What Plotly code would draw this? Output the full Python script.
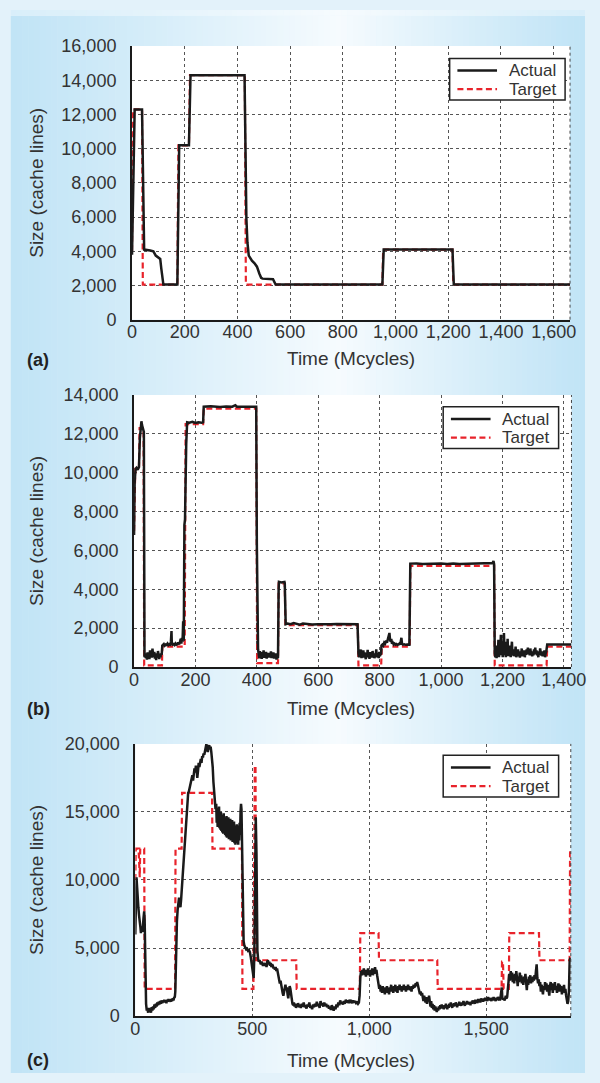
import plotly.graph_objects as go

# ---------------- DATA ----------------
a_x_ticks = [0, 200, 400, 600, 800, 1000, 1200, 1400, 1600]
a_y_ticks = [0, 2000, 4000, 6000, 8000, 10000, 12000, 14000, 16000]
b_x_ticks = [0, 200, 400, 600, 800, 1000, 1200, 1400]
b_y_ticks = [0, 2000, 4000, 6000, 8000, 10000, 12000, 14000]
c_x_ticks = [0, 500, 1000, 1500]
c_y_ticks = [0, 5000, 10000, 15000, 20000]

a_actual = [(0, 3800), (3, 7000), (6, 10500), (10, 12300), (38, 12300), (42, 6000), (46, 4100),
            (69, 4050), (81, 4000), (90, 3750), (100, 3650), (107, 3550), (111, 3000), (115, 2300),
            (119, 2050), (172, 2050), (176, 7000), (179, 10200), (216, 10200), (219, 14000),
            (222, 14300), (427, 14300), (431, 9000), (434, 5900), (438, 4500), (443, 3750),
            (455, 3450), (465, 3300), (474, 3100), (478, 2900), (483, 2700), (490, 2450),
            (495, 2400), (535, 2370), (540, 2200), (545, 2050), (950, 2050), (955, 4100),
            (1216, 4100), (1221, 2050), (1662, 2050)]
a_target = [(0, 4000), (4, 12300), (38, 12300), (41, 2050), (172, 2050), (176, 10200), (216, 10200),
            (220, 14300), (428, 14300), (432, 2050), (950, 2050), (953, 4100), (1216, 4100),
            (1219, 2050), (1662, 2050)]

b_actual = [(0, 6800), (2, 9500), (5, 10200), (8, 10250), (12, 10150), (16, 10300), (19, 11800),
            (22, 12500), (24, 12650), (26, 12450), (28, 12300), (30, 12250), (32, 12100), (34, 500),
            (36, 700), (38, 450), (40, 620), (42, 380), (44, 750), (46, 520), (48, 680), (50, 400),
            (52, 850), (54, 560), (56, 720), (58, 480), (60, 950), (62, 600), (64, 520), (66, 780),
            (68, 430), (70, 650), (72, 350), (74, 700), (76, 480), (78, 820), (80, 560), (82, 400),
            (84, 650), (86, 500), (88, 700), (90, 620), (92, 1100), (94, 1120), (97, 1180), (100, 1100),
            (103, 1150), (106, 1130), (109, 1200), (112, 1120), (115, 1160), (118, 1140), (120, 1300),
            (122, 1850), (123, 1200), (126, 1150), (129, 1180), (132, 1130), (135, 1210), (138, 1150),
            (141, 1170), (144, 1250), (147, 1160), (150, 1300), (152, 1450), (154, 1200), (156, 1500),
            (158, 1300), (159, 1900), (160, 2350), (161, 1400), (162, 1350), (164, 7300), (166, 7600),
            (170, 11500), (173, 12600), (180, 12580), (190, 12620), (200, 12560), (210, 12600),
            (220, 12580), (225, 12600), (227, 13400), (250, 13420), (280, 13380), (300, 13410),
            (320, 13400), (330, 13480), (335, 13400), (360, 13420), (380, 13400), (398, 13400),
            (400, 6400), (404, 900), (406, 700), (408, 450), (410, 820), (412, 500), (414, 760),
            (416, 420), (418, 680), (420, 540), (422, 850), (424, 470), (426, 700), (428, 560),
            (430, 780), (432, 430), (434, 650), (436, 520), (438, 720), (440, 480), (442, 640),
            (444, 550), (446, 800), (448, 450), (450, 690), (452, 520), (454, 750), (456, 430),
            (458, 620), (460, 500), (462, 700), (464, 380), (466, 600), (468, 450), (469, 500),
            (471, 4000), (472, 4380), (480, 4350), (490, 4380), (491, 4300), (494, 2200), (500, 2230),
            (510, 2200), (520, 2260), (530, 2210), (540, 2180), (550, 2240), (560, 2220), (570, 2200),
            (580, 2180), (600, 2200), (620, 2190), (640, 2200), (660, 2210), (680, 2200), (700, 2190),
            (720, 2200), (728, 2200), (731, 700), (733, 500), (735, 820), (737, 600), (739, 900),
            (741, 450), (743, 700), (745, 550), (747, 850), (749, 480), (751, 750), (753, 600),
            (755, 400), (757, 720), (759, 560), (761, 880), (763, 500), (765, 680), (767, 420),
            (769, 760), (771, 550), (773, 650), (775, 480), (777, 820), (779, 600), (781, 700),
            (783, 450), (785, 650), (787, 550), (789, 900), (791, 500), (793, 720), (795, 600),
            (797, 460), (799, 780), (801, 560), (803, 650), (805, 700), (806, 1100), (809, 1150),
            (812, 1100), (815, 1250), (818, 1200), (821, 1350), (824, 1250), (827, 1400), (830, 1550),
            (832, 1750), (834, 1400), (836, 1300), (838, 1450), (840, 1200), (843, 1250), (846, 1150),
            (849, 1200), (852, 1150), (855, 1180), (858, 1130), (861, 1160), (864, 1200), (867, 1150),
            (870, 1450), (871, 1500), (873, 1200), (876, 1150), (880, 1170), (885, 1140), (890, 1160),
            (895, 1150), (897, 1150), (900, 5320), (920, 5330), (940, 5300), (960, 5320), (980, 5310),
            (1000, 5330), (1020, 5300), (1040, 5320), (1060, 5300), (1080, 5310), (1100, 5320),
            (1120, 5300), (1140, 5310), (1160, 5320), (1168, 5350), (1171, 5450), (1173, 5300),
            (1175, 700), (1177, 500), (1179, 1100), (1181, 450), (1183, 900), (1185, 600), (1187, 1400),
            (1189, 500), (1191, 1000), (1193, 700), (1195, 1650), (1197, 600), (1199, 1200), (1201, 500),
            (1203, 900), (1205, 1750), (1207, 600), (1209, 1300), (1211, 500), (1213, 1000), (1215, 650),
            (1217, 1450), (1219, 550), (1221, 900), (1223, 700), (1225, 1100), (1227, 500), (1229, 800),
            (1231, 1300), (1233, 600), (1235, 900), (1237, 550), (1239, 800), (1241, 650), (1243, 1050),
            (1245, 500), (1247, 750), (1249, 600), (1251, 900), (1253, 550), (1255, 700), (1257, 480),
            (1259, 800), (1261, 650), (1263, 950), (1265, 550), (1267, 700), (1269, 600), (1271, 850),
            (1273, 500), (1275, 750), (1277, 620), (1279, 900), (1281, 700), (1283, 1000), (1285, 650),
            (1287, 850), (1289, 600), (1291, 950), (1293, 700), (1295, 800), (1297, 550), (1299, 750),
            (1301, 600), (1303, 900), (1305, 700), (1307, 1000), (1309, 650), (1311, 850), (1313, 600),
            (1315, 750), (1317, 500), (1319, 800), (1321, 650), (1323, 950), (1325, 700), (1327, 600),
            (1329, 800), (1331, 550), (1333, 750), (1335, 600), (1337, 850), (1339, 500), (1341, 700),
            (1343, 800), (1346, 1150), (1360, 1160), (1380, 1150), (1400, 1160), (1425, 1150)]
b_target = [(0, 7000), (4, 10200), (16, 10200), (18, 12300), (31, 12300), (33, 80), (91, 80),
            (92, 1050), (165, 1050), (168, 12500), (225, 12500), (227, 13300), (398, 13300),
            (401, 200), (469, 200), (471, 4300), (491, 4300), (493, 2150), (729, 2150), (731, 80),
            (805, 80), (807, 1050), (898, 1050), (900, 5200), (1173, 5200), (1175, 80), (1344, 80),
            (1346, 1050), (1425, 1050)]

c_actual = [(0, 6000), (3, 9500), (5, 10200), (8, 9400), (10, 8500), (13, 8000), (16, 7400), (19, 7100),
            (22, 6500), (24, 6100), (26, 6500), (28, 6600), (30, 6200), (32, 6400), (35, 7200), (38, 7700),
            (40, 7000), (42, 5700), (44, 3000), (46, 900), (49, 400), (52, 550), (55, 250), (58, 600),
            (61, 300), (64, 500), (67, 250), (70, 650), (73, 400), (76, 700), (79, 500), (82, 850),
            (85, 600), (88, 900), (91, 700), (94, 1000), (97, 800), (100, 1050), (103, 850), (106, 1100),
            (109, 900), (112, 1150), (115, 950), (118, 1100), (121, 1000), (124, 1200), (127, 1000),
            (130, 1150), (133, 950), (136, 1200), (139, 1050), (142, 1250), (145, 1100), (148, 1200),
            (151, 1050), (154, 1250), (157, 1100), (160, 1300), (163, 1150), (166, 1350), (169, 1400),
            (171, 1800), (174, 4500), (176, 6100), (178, 7000), (181, 7800), (184, 8300), (187, 8700),
            (190, 8200), (193, 8000), (196, 8600), (199, 9400), (202, 10000), (205, 10800), (208, 11500),
            (211, 12300), (214, 13100), (217, 14000), (220, 15000), (223, 15900), (226, 16400),
            (229, 16500), (232, 16800), (235, 16900), (238, 17100), (241, 17400), (244, 17700),
            (247, 17300), (250, 17800), (253, 18200), (256, 17900), (259, 18400), (262, 18100),
            (265, 17500), (268, 18000), (271, 18600), (274, 18300), (277, 18700), (280, 18900),
            (283, 18600), (286, 19100), (289, 19000), (292, 19300), (295, 19200), (298, 19500),
            (301, 19700), (304, 20000), (307, 19600), (310, 19400), (313, 19800), (316, 19900),
            (319, 19600), (322, 19800), (325, 19400), (328, 19000), (331, 18300), (334, 17200),
            (337, 16400), (340, 15800), (343, 15200), (346, 15600), (348, 14200), (350, 15300),
            (352, 13900), (354, 15100), (356, 14000), (358, 15400), (360, 13800), (362, 14900),
            (364, 13700), (366, 15000), (368, 13600), (370, 14800), (372, 13500), (374, 14700),
            (376, 13400), (378, 14900), (380, 13500), (382, 14600), (384, 13300), (386, 14500),
            (388, 13200), (390, 14700), (392, 13100), (394, 14400), (396, 13200), (398, 14600),
            (400, 13000), (402, 14300), (404, 13100), (406, 14500), (408, 12900), (410, 14200),
            (412, 13000), (414, 14400), (416, 12800), (418, 14100), (420, 12900), (422, 14300),
            (424, 12700), (426, 14000), (428, 12600), (430, 13900), (432, 12800), (434, 14100),
            (436, 12700), (438, 13800), (440, 12600), (442, 14000), (444, 12900), (446, 14200),
            (448, 13300), (450, 15000), (452, 15600), (454, 15200), (456, 13500), (458, 10000),
            (460, 7500), (463, 5500), (466, 5200), (470, 5000), (474, 4900), (478, 4950), (482, 4800),
            (486, 4850), (490, 4700), (494, 4300), (497, 3800), (500, 3400), (503, 3100), (506, 2800),
            (509, 4500), (512, 11000), (515, 14600), (518, 12000), (520, 7000), (522, 4800),
            (525, 4200), (528, 4000), (531, 4100), (534, 3900), (537, 3800), (540, 4000), (543, 3900),
            (546, 3700), (549, 3900), (552, 3800), (555, 3700), (558, 3900), (561, 3600), (564, 4000),
            (567, 4100), (570, 3800), (573, 4000), (576, 3700), (579, 3900), (582, 3600), (585, 3800),
            (588, 3700), (591, 3500), (594, 3600), (597, 3400), (600, 3600), (603, 3300), (606, 3500),
            (609, 3200), (612, 3000), (615, 2700), (618, 2400), (621, 2600), (624, 2200), (627, 2000),
            (630, 1700), (633, 1500), (636, 1900), (639, 2200), (642, 2300), (645, 1900), (648, 2100),
            (651, 1600), (654, 1300), (657, 1800), (660, 2200), (663, 2000), (666, 1500), (669, 1200),
            (672, 900), (675, 800), (678, 1000), (681, 700), (684, 900), (687, 600), (690, 800),
            (693, 700), (696, 950), (700, 650), (704, 850), (708, 600), (712, 900), (716, 700),
            (720, 1000), (724, 650), (728, 800), (732, 550), (736, 850), (740, 700), (744, 1000),
            (748, 600), (752, 750), (756, 500), (760, 850), (764, 650), (768, 900), (772, 700),
            (776, 1050), (780, 750), (784, 900), (788, 600), (792, 1100), (796, 800), (800, 950),
            (804, 700), (808, 1000), (812, 750), (816, 900), (820, 650), (824, 800), (828, 550),
            (832, 700), (836, 450), (840, 800), (844, 600), (848, 400), (852, 700), (856, 500),
            (860, 850), (864, 650), (868, 1000), (872, 800), (876, 1150), (880, 900), (884, 1050),
            (888, 850), (892, 1100), (896, 900), (900, 1200), (904, 1000), (908, 1150), (912, 950),
            (916, 1200), (920, 1050), (924, 1100), (928, 950), (932, 1150), (936, 1000), (940, 1100),
            (944, 950), (948, 1000), (952, 900), (956, 1000), (959, 1500), (962, 2800), (965, 3300),
            (968, 3000), (971, 3400), (974, 3100), (977, 3500), (980, 3000), (983, 3400), (986, 2900),
            (989, 3300), (992, 3100), (995, 3500), (998, 3000), (1001, 3300), (1004, 2900), (1007, 3400),
            (1010, 3100), (1013, 3500), (1016, 3000), (1019, 3300), (1022, 3100), (1025, 3600),
            (1028, 3200), (1031, 3400), (1034, 3000), (1037, 2700), (1040, 2300), (1043, 2000),
            (1046, 2300), (1049, 1800), (1052, 2100), (1055, 1700), (1058, 2200), (1061, 1800),
            (1064, 2000), (1067, 1600), (1070, 2100), (1073, 1800), (1076, 2200), (1079, 1700),
            (1082, 2000), (1085, 1600), (1088, 2100), (1091, 1900), (1094, 2300), (1097, 1800),
            (1100, 2100), (1103, 1700), (1106, 2200), (1109, 1900), (1112, 2300), (1115, 1800),
            (1118, 2100), (1121, 1700), (1124, 2200), (1127, 1900), (1130, 2300), (1133, 2000),
            (1136, 2200), (1139, 1800), (1142, 2100), (1145, 1900), (1148, 2300), (1151, 2000),
            (1154, 2200), (1157, 1800), (1160, 2100), (1163, 1900), (1166, 2300), (1169, 2000),
            (1172, 2200), (1175, 1900), (1178, 2100), (1181, 1800), (1184, 2200), (1187, 2000),
            (1190, 2300), (1193, 2100), (1196, 2200), (1199, 2400), (1202, 2200), (1205, 2500),
            (1208, 2300), (1211, 2100), (1214, 1900), (1217, 1600), (1220, 1800), (1223, 1500),
            (1226, 1700), (1229, 1300), (1232, 1100), (1235, 1500), (1238, 1200), (1241, 1000),
            (1244, 1400), (1247, 900), (1250, 1300), (1253, 1100), (1256, 1500), (1259, 1000),
            (1262, 700), (1265, 1100), (1268, 600), (1271, 900), (1274, 500), (1277, 800), (1280, 400),
            (1283, 700), (1286, 500), (1289, 300), (1292, 600), (1295, 400), (1298, 700), (1301, 500),
            (1304, 800), (1307, 600), (1310, 850), (1313, 550), (1316, 700), (1319, 500), (1322, 800),
            (1325, 600), (1328, 900), (1331, 650), (1334, 500), (1337, 800), (1340, 600), (1343, 900),
            (1346, 700), (1349, 1000), (1352, 750), (1355, 600), (1358, 900), (1361, 700), (1364, 950),
            (1367, 750), (1370, 1000), (1373, 800), (1376, 650), (1379, 900), (1382, 750), (1385, 1050),
            (1388, 800), (1391, 950), (1394, 750), (1397, 1000), (1400, 850), (1403, 1100), (1406, 900),
            (1409, 750), (1412, 1000), (1415, 850), (1418, 1100), (1421, 900), (1424, 1050), (1427, 850),
            (1430, 1000), (1433, 800), (1436, 1050), (1439, 900), (1442, 1150), (1445, 950), (1448, 1100),
            (1451, 900), (1454, 1200), (1457, 1000), (1460, 1150), (1463, 950), (1466, 1250),
            (1469, 1050), (1472, 1200), (1475, 1000), (1478, 1300), (1481, 1100), (1484, 1250),
            (1487, 1050), (1490, 1300), (1493, 1100), (1496, 1350), (1499, 1150), (1502, 1300),
            (1505, 1100), (1508, 1400), (1511, 1200), (1514, 1350), (1517, 1150), (1520, 1300),
            (1523, 1100), (1526, 1350), (1529, 1200), (1532, 1400), (1535, 1150), (1538, 1300),
            (1541, 1100), (1544, 1350), (1547, 1200), (1550, 1400), (1553, 1250), (1556, 1300),
            (1559, 1150), (1562, 1450), (1565, 1900), (1567, 2100), (1569, 1400), (1572, 1200),
            (1575, 1300), (1578, 1150), (1581, 1250), (1584, 1500), (1587, 1300), (1590, 1400),
            (1593, 2000), (1596, 2800), (1599, 3100), (1602, 2600), (1605, 3300), (1608, 2700),
            (1611, 3200), (1614, 2500), (1617, 3000), (1620, 2400), (1623, 3100), (1626, 2600),
            (1629, 3300), (1632, 2800), (1635, 2200), (1638, 2900), (1641, 2500), (1644, 3200),
            (1647, 2700), (1650, 3000), (1653, 2400), (1656, 2800), (1659, 2300), (1662, 2900),
            (1665, 2600), (1668, 3100), (1671, 2500), (1674, 1900), (1677, 2700), (1680, 2300),
            (1683, 2900), (1686, 2500), (1689, 3000), (1692, 2400), (1695, 2800), (1698, 2500),
            (1701, 2900), (1704, 2600), (1707, 3000), (1710, 2700), (1713, 3300), (1716, 3800),
            (1719, 2800), (1722, 2400), (1725, 2700), (1728, 2200), (1731, 2500), (1734, 1800),
            (1737, 2300), (1740, 2000), (1743, 1600), (1746, 2200), (1749, 1900), (1752, 2500),
            (1755, 2100), (1758, 2400), (1761, 1800), (1764, 2300), (1767, 2000), (1770, 1500),
            (1773, 2200), (1776, 2500), (1779, 1900), (1782, 2400), (1785, 1700), (1788, 2300),
            (1791, 2000), (1794, 2500), (1797, 1900), (1800, 2200), (1803, 1700), (1806, 2100),
            (1809, 2400), (1812, 1800), (1815, 2300), (1818, 1900), (1821, 2200), (1824, 1600),
            (1827, 2100), (1830, 1800), (1833, 2300), (1836, 1700), (1839, 2000), (1842, 1500),
            (1845, 1200), (1848, 900), (1851, 1100), (1854, 1800), (1857, 4000), (1860, 4300)]
c_target = [(0, 10000), (2, 12300), (14, 12300), (16, 10200), (19, 10200), (21, 12300), (38, 12300),
            (40, 2000), (170, 2000), (172, 12300), (198, 12300), (200, 16400), (328, 16400),
            (330, 12300), (456, 12300), (458, 2000), (505, 2000), (511, 18400), (514, 18400),
            (516, 4100), (688, 4100), (690, 2000), (960, 2000), (962, 6100), (1040, 6100),
            (1042, 4100), (1291, 4100), (1293, 2000), (1566, 2000), (1568, 4000), (1572, 4000),
            (1575, 2000), (1597, 2000), (1599, 6100), (1726, 6100), (1728, 4100), (1857, 4100),
            (1859, 12300)]

series_names = ["Actual", "Target"]
panel_labels = ["(a)", "(b)", "(c)"]
x_title = "Time (Mcycles)"
y_title = "Size (cache lines)"

# ---------------- LAYOUT HELPERS ----------------
W, H = 600, 1083
FONT = "Liberation Sans, Arial, Helvetica, sans-serif"
TXT = "#333333"
BLACK = "#1a1a1a"
RED = "#e8232b"
RED_DASH = "6px,3.5px"


def px(x):
    return x / W


def py(y):
    return 1 - y / H


def mix(c1, c2, t):
    return "rgb(%d,%d,%d)" % tuple(round(a + (b - a) * t) for a, b in zip(c1, c2))


panels = [
    dict(x0=131.4, x1=584.5, y0=36.8, y1=315.5, xr=1662, yr=16000, xt=a_x_ticks, yt=a_y_ticks,
         act=a_actual, tgt=a_target, leg=(460, 49.3), lab_y=357, xt_y=355),
    dict(x0=133.5, x1=586.0, y0=392.3, y1=669.3, xr=1425, yr=14000, xt=b_x_ticks, yt=b_y_ticks,
         act=b_actual, tgt=b_target, leg=(453.3, 404.3), lab_y=712, xt_y=712),
    dict(x0=134.8, x1=585.3, y0=747.7, y1=1025.0, xr=1862, yr=20000, xt=c_x_ticks, yt=c_y_ticks,
         act=c_actual, tgt=c_target, leg=(453.3, 759.3), lab_y=1070, xt_y=1070),
]

fig = go.Figure()
shapes = []
annotations = []

# background gradient
BLUE = (193, 228, 246)
WHITE = (246, 251, 254)
step = 6
xx = 6
while xx < W:
    xc = xx + step / 2
    if xc < 345:
        t = (xc - 6) / (345 - 6)
    else:
        t = (W - xc) / (W - 345)
    t = max(0.0, min(1.0, t)) ** 1.1
    col = mix(BLUE, WHITE, t)
    top_col = mix(BLUE, WHITE, 0.45 + 0.55 * t)
    shapes.append(dict(type="rect", xref="paper", yref="paper", x0=px(xx), x1=px(min(W, xx + step + 0.5)),
                       y0=0, y1=py(6), fillcolor=col, line=dict(width=0), layer="below"))
    shapes.append(dict(type="rect", xref="paper", yref="paper", x0=px(xx), x1=px(min(W, xx + step + 0.5)),
                       y0=py(6), y1=1, fillcolor=top_col, line=dict(width=0), layer="below"))
    xx += step

layout_axes = {}
for i, p in enumerate(panels):
    n = "" if i == 0 else str(i + 1)
    xa, ya = "x" + n, "y" + n
    # white plot area
    shapes.append(dict(type="rect", xref="paper", yref="paper", x0=px(p["x0"]), x1=px(p["x1"]),
                       y0=py(p["y1"]), y1=py(p["y0"]), fillcolor="white", line=dict(width=0), layer="below"))
    # dotted right border
    shapes.append(dict(type="line", xref="paper", yref="paper", x0=px(p["x1"]), x1=px(p["x1"]),
                       y0=py(p["y1"]), y1=py(p["y0"]), line=dict(color="#444", width=1, dash="dot"),
                       layer="above"))
    common = dict(showline=True, linecolor=BLACK, linewidth=2, mirror=False, showgrid=True,
                  gridcolor="#555555", gridwidth=1, griddash="dot", zeroline=False, ticks="",
                  tickfont=dict(family=FONT, size=18, color=TXT), tickformat=",d", fixedrange=True)
    layout_axes["xaxis" + n] = dict(common, domain=[px(p["x0"]), px(p["x1"])], range=[0, p["xr"]],
                                    tickvals=p["xt"], anchor=ya, ticklabelstandoff=-5)
    layout_axes["yaxis" + n] = dict(common, domain=[py(p["y1"]), py(p["y0"])], range=[0, p["yr"]],
                                    tickvals=p["yt"], anchor=xa, ticklabelstandoff=10)
    tx = [q[0] for q in p["tgt"]]
    ty = [q[1] for q in p["tgt"]]
    ax_ = [q[0] for q in p["act"]]
    ay_ = [q[1] for q in p["act"]]
    fig.add_trace(go.Scatter(x=tx, y=ty, mode="lines", name=series_names[1], xaxis=xa, yaxis=ya,
                             line=dict(color=RED, width=2.2, dash=RED_DASH), showlegend=False,
                             hoverinfo="skip"))
    fig.add_trace(go.Scatter(x=ax_, y=ay_, mode="lines", name=series_names[0], xaxis=xa, yaxis=ya,
                             line=dict(color=BLACK, width=2.5), showlegend=False, hoverinfo="skip"))

    # legend box drawn in figure pixels
    lx, ly = p["leg"]
    shapes.append(dict(type="rect", xref="paper", yref="paper", x0=px(lx), x1=px(lx + 119.4),
                       y0=py(ly + 42.4), y1=py(ly), fillcolor="white",
                       line=dict(color="#222", width=1.5), layer="above"))
    for k, (nm, colr, dsh, w) in enumerate([(series_names[0], BLACK, "solid", 2.5),
                                            (series_names[1], RED, RED_DASH, 2.2)]):
        yy = ly + 12.4 + 19 * k
        shapes.append(dict(type="line", xref="paper", yref="paper", x0=px(lx + 8), x1=px(lx + 49),
                           y0=py(yy), y1=py(yy), line=dict(color=colr, width=w, dash=dsh), layer="above"))
        annotations.append(dict(text=nm, xref="paper", yref="paper", x=px(lx + 59), y=py(yy),
                                showarrow=False, xanchor="left", yanchor="middle",
                                font=dict(family=FONT, size=17, color=TXT)))

    # axis titles
    annotations.append(dict(text=x_title, xref="paper", yref="paper", x=px(358), y=py(p["xt_y"]),
                            showarrow=False, font=dict(family=FONT, size=19, color=TXT),
                            xanchor="center", yanchor="middle"))
    annotations.append(dict(text=y_title, xref="paper", yref="paper", x=px(33),
                            y=py((p["y0"] + p["y1"]) / 2), textangle=-90, showarrow=False,
                            font=dict(family=FONT, size=19, color=TXT), xanchor="center", yanchor="middle"))
    annotations.append(dict(text="<b>%s</b>" % panel_labels[i], xref="paper", yref="paper", x=px(21),
                            y=py(p["lab_y"]), showarrow=False, font=dict(family=FONT, size=18, color="#222"),
                            xanchor="left", yanchor="middle"))

fig.update_layout(width=W, height=H, margin=dict(l=0, r=0, t=0, b=0), paper_bgcolor="#e3f2fa",
                  plot_bgcolor="rgba(0,0,0,0)", shapes=shapes, annotations=annotations,
                  showlegend=False, **layout_axes)

fig.write_html("out.html",
               post_script="document.body.style.margin='0px';document.body.style.padding='0px';"
                           "document.documentElement.style.overflow='hidden';")
